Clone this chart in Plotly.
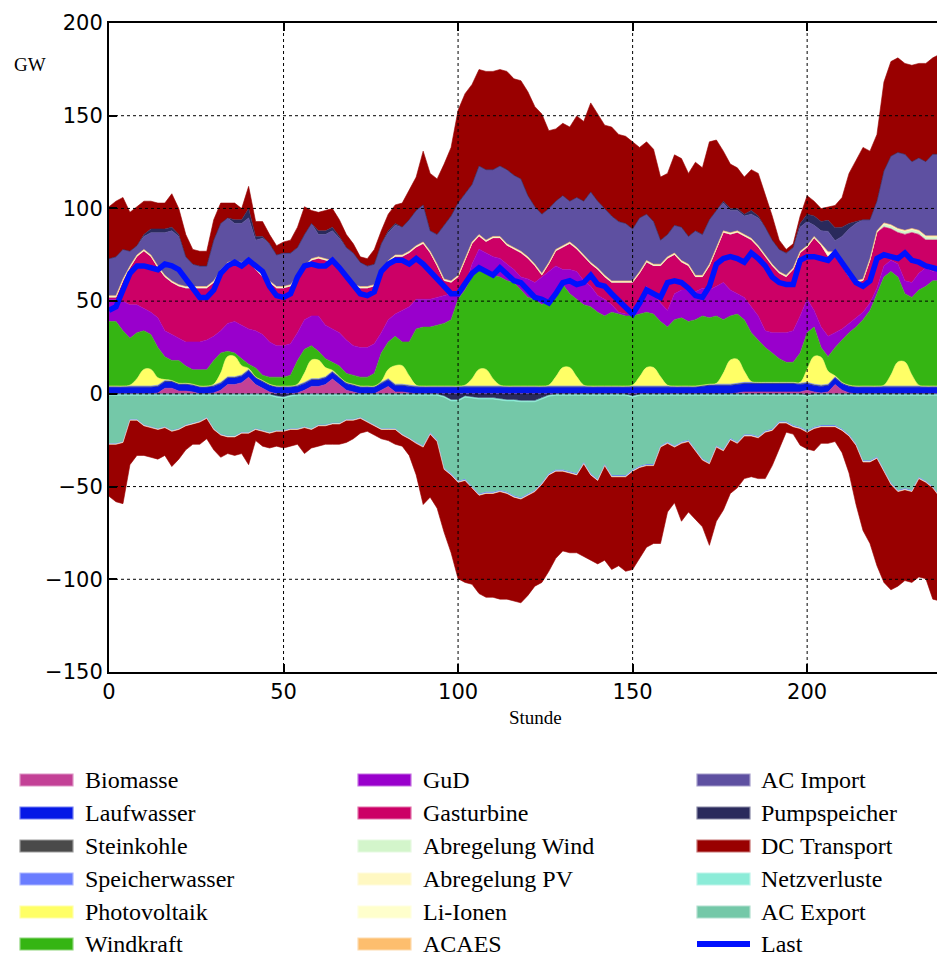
import plotly.graph_objects as go

# ---------------- data (GW), hours 0..238 step 2 ----------------
hours = list(range(0, 240, 2))

biomasse = [0, 0, 0, 0, 0, 0, 0, 0.5, 3, 3,
            1.5, 1.5, 1, 0, 0, 0.5, 2, 5, 5, 6,
            9, 5, 3, 1, 0, 0, 0, 0.5, 2, 4,
            4, 5, 8, 5, 2, 1, 0, 0, 0, 2,
            4, 1, 1, 0.5, 0, 0, 0, 0, 0, 0,
            0, 0, 0, 0, 0, 0, 0, 0, 0, 0,
            0, 0, 0, 0, 0, 0, 0, 0, 0, 0,
            0, 0, 0, 0, 0, 0, 0, 0, 0, 0,
            0, 0, 0, 0, 0, 0, 0, 0, 0, 0,
            0.5, 1, 1, 1, 1, 1, 1, 1, 1, 1,
            2, 1, 0.5, 1, 5, 2, 0.5, 0, 0, 0,
            0, 0, 0, 0, 0, 0, 0, 0, 0, 0]

laufwasser = [3.5, 3.5, 3.5, 3.5, 3.5, 3.5, 3.5, 3.5, 3.5, 3.5,
              3.5, 3.5, 3.5, 3.5, 3.5, 3.5, 3.5, 3.5, 3.5, 3.5,
              3.5, 3.5, 3.5, 3.5, 3.5, 3.5, 3.5, 3.5, 3.5, 3.5,
              3.5, 3.5, 3.5, 3.5, 3.5, 3.5, 3.5, 3.5, 3.5, 3.5,
              3.5, 3.5, 3.5, 3.5, 3.5, 3.5, 3.5, 3.5, 3.5, 3.5,
              3.5, 3.5, 3.5, 3.5, 3.5, 3.5, 3.5, 3.5, 3.5, 3.5,
              3.5, 3.5, 3.5, 3.5, 3.5, 3.5, 3.5, 3.5, 3.5, 3.5,
              3.5, 3.5, 3.5, 3.5, 3.5, 3.5, 3.5, 3.5, 3.5, 3.5,
              3.5, 3.5, 3.5, 3.5, 3.5, 4, 4.5, 4.5, 4.5, 4.5,
              4.5, 4.5, 4.5, 4.5, 4.5, 4.5, 4.5, 4.5, 4.5, 4,
              3.5, 3.5, 3.5, 3.5, 3.5, 3.5, 3.5, 3.5, 3.5, 3.5,
              3.5, 3.5, 3.5, 3.5, 3.5, 3.5, 3.5, 3.5, 3.5, 3.5]

steinkohle = [0.4, 0.4, 0.4, 0.4, 0.4, 0.4, 0.4, 0.4, 0.4, 0.4,
              0.4, 0.4, 0.4, 0.4, 0.4, 0.4, 0.4, 0.4, 0.4, 0.4,
              0.4, 0.4, 0.4, 0.4, 0.4, 0.4, 0.4, 0.4, 0.4, 0.4,
              0.4, 0.4, 0.4, 0.4, 0.4, 0.4, 0.4, 0.4, 0.4, 0.4,
              0.4, 0.4, 0.4, 0.4, 0.4, 0.4, 0.4, 0.4, 0.4, 0.4,
              0.4, 0.4, 0.4, 0.4, 0.4, 0.4, 0.4, 0.4, 0.4, 0.4,
              0.4, 0.4, 0.4, 0.4, 0.4, 0.4, 0.4, 0.4, 0.4, 0.4,
              0.4, 0.4, 0.4, 0.4, 0.4, 0.4, 0.4, 0.4, 0.4, 0.4,
              0.4, 0.4, 0.4, 0.4, 0.4, 0.4, 0.4, 0.4, 0.4, 0.4,
              0.4, 0.4, 0.4, 0.4, 0.4, 0.4, 0.4, 0.4, 0.4, 0.4,
              0.4, 0.4, 0.4, 0.4, 0.4, 0.4, 0.4, 0.4, 0.4, 0.4,
              0.4, 0.4, 0.4, 0.4, 0.4, 0.4, 0.4, 0.4, 0.4, 0.4]

speicherwasser = [0.3, 0.3, 0.3, 0.3, 0.3, 0.3, 0.3, 0.3, 0.3, 0.3,
                  0.3, 0.3, 0.3, 0.3, 0.3, 0.3, 0.3, 0.3, 0.3, 0.3,
                  0.3, 0.3, 0.3, 0.3, 0.3, 0.3, 0.3, 0.3, 0.3, 0.3,
                  0.3, 0.3, 0.3, 0.3, 0.3, 0.3, 0.3, 0.3, 0.3, 0.3,
                  0.3, 0.3, 0.3, 0.3, 0.3, 0.3, 0.3, 0.3, 0.3, 0.3,
                  0.3, 0.3, 0.3, 0.3, 0.3, 0.3, 0.3, 0.3, 0.3, 0.3,
                  0.3, 0.3, 0.3, 0.3, 0.3, 0.3, 0.3, 0.3, 0.3, 0.3,
                  0.3, 0.3, 0.3, 0.3, 0.3, 0.3, 0.3, 0.3, 0.3, 0.3,
                  0.3, 0.3, 0.3, 0.3, 0.3, 0.3, 0.3, 0.3, 0.3, 0.3,
                  0.3, 0.3, 0.3, 0.3, 0.3, 0.3, 0.3, 0.3, 0.3, 0.3,
                  0.3, 0.3, 0.3, 0.3, 0.3, 0.3, 0.3, 0.3, 0.3, 0.3,
                  0.3, 0.3, 0.3, 0.3, 0.3, 0.3, 0.3, 0.3, 0.3, 0.3]

photovoltaik = [0, 0, 0, 0.5, 4, 9, 9, 4, 0.5, 0,
                0, 0, 0, 0, 0, 0.5, 5, 11, 11, 5,
                0.5, 0, 0, 0, 0, 0, 0, 0.5, 5, 10,
                10, 5, 0.5, 0, 0, 0, 0, 0, 0, 0.5,
                5, 10, 10, 5, 0.5, 0, 0, 0, 0, 0,
                0, 0.5, 4, 9, 9, 4, 0.5, 0, 0, 0,
                0, 0, 0, 0.5, 5, 10, 10, 5, 0.5, 0,
                0, 0, 0, 0, 0, 0.5, 5, 10, 10, 5,
                0.5, 0, 0, 0, 0, 0, 0, 0.5, 6, 13,
                13, 6, 0.5, 0, 0, 0, 0, 0, 0, 0.5,
                7, 15, 15, 7, 0.5, 0, 0, 0, 0, 0,
                0, 0.5, 6, 13, 13, 6, 0.5, 0, 0, 0]

windkraft = [34.8, 34.8, 29.8, 25.3, 24.8, 20.8, 18.8, 16.3, 12.3, 10.8,
             12.3, 9.3, 7.8, 8.8, 8.8, 12.8, 10.8, 2.8, 1.8, 3.8,
             2.3, 4.8, 2.8, 3.8, 4.8, 4.8, 5.8, 12.8, 12.8, 7.8,
             4.8, 4.8, 4.3, 5.8, 4.8, 4.8, 4.8, 4.8, 6.8, 15.3,
             14.8, 15.8, 12.8, 18.3, 30.3, 31.8, 31.8, 32.8, 33.8, 35.8,
             46.8, 51.3, 54.8, 55.8, 53.8, 55.8, 58.3, 56.8, 55.8, 51.8,
             47.8, 46.8, 43.8, 46.3, 44.8, 44.8, 39.8, 41.8, 43.3, 42.8,
             39.8, 37.8, 39.8, 38.8, 37.8, 37.3, 33.8, 29.8, 28.8, 29.8,
             31.3, 35.8, 36.8, 34.8, 35.8, 37.3, 35.8, 36.3, 28.8, 23.8,
             24.3, 27.8, 26.3, 22.8, 18.8, 15.8, 12.8, 10.8, 10.8, 15.8,
             19.8, 15.8, 5.3, 7.8, 15.3, 22.8, 28.3, 31.8, 35.8, 40.8,
             49.8, 58.3, 55.8, 45.8, 36.8, 41.8, 51.3, 53.8, 56.8, 56.8]

gud = [12, 12, 16, 18, 15, 12, 12, 16, 14, 14,
       12, 13, 15, 15, 16, 13, 12, 15, 17, 18,
       19, 20, 22, 19, 17, 17, 17, 15, 16, 16,
       19, 18, 18, 18, 18, 16, 16, 16, 16, 11,
       12, 12, 17, 19, 16, 15, 15, 15, 15, 14,
       3, 2, 7, 9, 9, 10, 10, 9, 7, 7,
       10, 9, 15, 15, 15, 8, 13, 15, 13, 11,
       9, 9, 4, 1, 1, 1, 7, 14, 11, 10,
       9, 14, 15, 17, 15, 15, 15, 16, 20, 14,
       11, 12, 14, 13, 9, 11, 14, 16, 17, 20,
       18, 9, 11, 11, 8, 6, 5, 5, 4, 4,
       3, 6, 6, 7, 7, 8, 9, 10, 5, 6]

gasturbine = [1, 1, 11, 20, 26, 31, 30, 27, 29, 28,
              28, 29, 29, 29, 28, 29, 32, 32, 32, 33,
              37, 33, 31, 32, 31, 31, 31, 30, 28, 30,
              31, 35, 36, 35, 34, 32, 32, 32, 31, 33,
              31, 31, 29, 29, 28, 30, 25, 17, 8, 6,
              9, 14, 11, 7, 6, 10, 11, 10, 11, 13,
              11, 9, 1, 4, 8, 12, 14, 12, 13, 12,
              14, 12, 12, 16, 17, 17, 15, 13, 15, 20,
              28, 21, 15, 13, 8, 6, 13, 20, 27, 30,
              33, 33, 36, 37, 40, 36, 32, 30, 33, 34,
              28, 39, 44, 43, 41, 34, 25, 19, 17, 23,
              30, 21, 17, 17, 25, 27, 21, 15, 17, 16]

abregelung_wind = [0.2, 0.2, 0.2, 0.2, 0.2, 0.2, 0.2, 0.2, 0.2, 0.2,
                   0.2, 0.2, 0.2, 0.2, 0.2, 0.2, 0.2, 0.2, 0.2, 0.2,
                   0.2, 0.2, 0.2, 0.2, 0.2, 0.2, 0.2, 0.2, 0.2, 0.2,
                   0.2, 0.2, 0.2, 0.2, 0.2, 0.2, 0.2, 0.2, 0.2, 0.2,
                   0.2, 0.2, 0.2, 0.2, 0.2, 0.2, 0.2, 0.2, 0.2, 0.2,
                   0.2, 0.2, 0.2, 0.2, 0.2, 0.2, 0.2, 0.2, 0.2, 0.2,
                   0.2, 0.2, 0.2, 0.2, 0.2, 0.2, 0.2, 0.2, 0.2, 0.2,
                   0.2, 0.2, 0.2, 0.2, 0.2, 0.2, 0.2, 0.2, 0.2, 0.2,
                   0.2, 0.2, 0.2, 0.2, 0.2, 0.2, 0.2, 0.2, 0.2, 0.2,
                   0.2, 0.2, 0.2, 0.2, 0.2, 0.2, 0.2, 0.2, 0.2, 0.2,
                   0.2, 0.2, 0.2, 0.2, 0.2, 0.2, 0.2, 0.2, 0.2, 0.2,
                   0.2, 1.5, 1.5, 1.5, 1.5, 1.5, 1.5, 1.5, 1.5, 1.5]

abregelung_pv = [0.2, 0.2, 0.2, 0.2, 0.2, 0.2, 0.2, 0.2, 0.2, 0.2,
                 0.2, 0.2, 0.2, 0.2, 0.2, 0.2, 0.2, 0.2, 0.2, 0.2,
                 0.2, 0.2, 0.2, 0.2, 0.2, 0.2, 0.2, 0.2, 0.2, 0.2,
                 0.2, 0.2, 0.2, 0.2, 0.2, 0.2, 0.2, 0.2, 0.2, 0.2,
                 0.2, 0.2, 0.2, 0.2, 0.2, 0.2, 0.2, 0.2, 0.2, 0.2,
                 0.2, 0.2, 0.2, 0.2, 0.2, 0.2, 0.2, 0.2, 0.2, 0.2,
                 0.2, 0.2, 0.2, 0.2, 0.2, 0.2, 0.2, 0.2, 0.2, 0.2,
                 0.2, 0.2, 0.2, 0.2, 0.2, 0.2, 0.2, 0.2, 0.2, 0.2,
                 0.2, 0.2, 0.2, 0.2, 0.2, 0.2, 0.2, 0.2, 0.2, 0.2,
                 0.2, 0.2, 0.2, 0.2, 0.2, 0.2, 0.2, 0.2, 0.2, 0.2,
                 0.2, 0.2, 0.2, 0.2, 0.2, 0.2, 0.2, 0.2, 0.2, 0.2,
                 0.2, 0.2, 0.2, 0.2, 0.2, 0.2, 0.2, 0.2, 0.2, 0.2]

li_ionen = [0.3, 0.3, 0.3, 0.3, 0.3, 0.3, 0.3, 0.3, 0.3, 0.3,
            0.3, 0.3, 0.3, 0.3, 0.3, 0.3, 0.3, 0.3, 0.3, 0.3,
            0.3, 0.3, 0.3, 0.3, 0.3, 0.3, 0.3, 0.3, 0.3, 0.3,
            0.3, 0.3, 0.3, 0.3, 0.3, 0.3, 0.3, 0.3, 0.3, 0.3,
            0.3, 0.3, 0.3, 0.3, 0.3, 0.3, 0.3, 0.3, 0.3, 0.3,
            0.3, 0.3, 0.3, 0.3, 0.3, 0.3, 0.3, 0.3, 0.3, 0.3,
            0.3, 0.3, 0.3, 0.3, 0.3, 0.3, 0.3, 0.3, 0.3, 0.3,
            0.3, 0.3, 0.3, 0.3, 0.3, 0.3, 0.3, 0.3, 0.3, 0.3,
            0.3, 0.3, 0.3, 0.3, 0.3, 0.3, 0.3, 0.3, 0.3, 0.3,
            0.3, 0.3, 0.3, 0.3, 0.3, 0.3, 0.3, 0.3, 0.3, 0.3,
            0.3, 0.3, 0.3, 2, 2, 0.3, 0.3, 0.3, 0.3, 0.3,
            0.3, 0.3, 0.3, 0.3, 0.3, 0.3, 0.3, 0.3, 0.3, 0.3]

acaes = [0.2, 0.2, 0.2, 0.2, 0.2, 0.2, 0.2, 0.2, 0.2, 0.2,
         0.2, 0.2, 0.2, 0.2, 0.2, 0.2, 0.2, 0.2, 0.2, 0.2,
         0.2, 0.2, 0.2, 0.2, 0.2, 0.2, 0.2, 0.2, 0.2, 0.2,
         0.2, 0.2, 0.2, 0.2, 0.2, 0.2, 0.2, 0.2, 0.2, 0.2,
         0.2, 0.2, 0.2, 0.2, 0.2, 0.2, 0.2, 0.2, 0.2, 0.2,
         0.2, 0.2, 0.2, 0.2, 0.2, 0.2, 0.2, 0.2, 0.2, 0.2,
         0.2, 0.2, 0.2, 0.2, 0.2, 0.2, 0.2, 0.2, 0.2, 0.2,
         0.2, 0.2, 0.2, 0.2, 0.2, 0.2, 0.2, 0.2, 0.2, 0.2,
         0.2, 0.2, 0.2, 0.2, 0.2, 0.2, 0.2, 0.2, 0.2, 0.2,
         0.2, 0.2, 0.2, 0.2, 0.2, 0.2, 0.2, 0.2, 0.2, 0.2,
         0.2, 0.2, 0.2, 0.2, 0.2, 0.2, 0.2, 0.2, 0.2, 0.2,
         0.2, 0.2, 0.2, 0.2, 0.2, 0.2, 0.2, 0.2, 0.2, 0.2]

ac_import = [20, 21, 16, 8, 5, 7, 12, 18, 23, 27,
             26, 16, 12, 11, 11, 22, 25, 24, 20, 21,
             22, 15, 20, 20, 17, 18, 17, 15, 17, 19,
             12, 13, 16, 15, 15, 17, 13, 11, 11, 14,
             15, 16, 15, 17, 19, 20, 11, 16, 29, 35,
             39, 35, 31, 37, 38, 36, 38, 40, 39, 39,
             33, 31, 32, 29, 26, 27, 22, 27, 29, 38,
             36, 36, 35, 32, 31, 28, 29, 25, 23, 13,
             12, 15, 18, 15, 24, 22, 24, 20, 15, 12,
             11, 10, 13, 15, 15, 13, 12, 12, 11, 13,
             13, 6, 7, 11, 6, 15, 25, 31, 32, 21,
             16, 28, 37, 41, 41, 36, 39, 40, 44, 44]

pumpspeicher = [0, 0, 0, 0, 0, 1, 2, 2, 2, 2,
                1, 0, 0, 0, 0, 0, 0, 0, 2, 2,
                5, 2, 1, 0, 0, 0, 0, 0, 0, 0,
                2, 2, 2, 1, 0, 0, 0, 0, 0, 0,
                1, 1, 0, 0, 0, 0, 0, 0, 0, 0,
                0, 0, 0, 0, 0, 0, 0, 0, 0, 0,
                0, 0, 0, 0, 0, 0, 0, 0, 0, 0,
                0, 0, 0, 0, 0, 0, 0, 0, 0, 0,
                0, 0, 0, 0, 0, 0, 0, 0, 1, 1,
                1, 1, 2, 1, 0, 0, 0, 0, 0, 2,
                4, 5, 5, 6, 7, 5, 3, 1, 0, 0,
                0, 0, 0, 0, 0, 0, 0, 0, 0, 0]

dc_transport = [28, 30, 28, 21, 21, 18, 15, 14, 14, 18,
                14, 12, 8, 8, 8, 11, 11, 8, 9, 6,
                12, 8, 8, 5, 5, 6, 7, 11, 15, 7,
                10, 11, 10, 9, 7, 5, 3, 4, 8, 7,
                9, 10, 13, 16, 18, 29, 31, 30, 33, 37,
                50, 54, 54, 52, 53, 53, 52, 53, 52, 53,
                56, 54, 54, 42, 39, 39, 40, 44, 43, 48,
                47, 45, 48, 47, 47, 47, 38, 39, 39, 34,
                33, 38, 37, 34, 37, 36, 42, 38, 27, 24,
                22, 20, 22, 23, 18, 13, 5, 2, 2, 4,
                10, 8, 7, 7, 12, 16, 27, 33, 39, 37,
                36, 48, 51, 51, 49, 52, 51, 53, 52, 54]

# negative side
pumpspeicher_neg = [0, 0, 0, 0, 0, 0, 0, 0, 0, 0,
                    0, 0, 0, 0, 0, 0, 0, 0, 0, 0,
                    0, 0, 0, 0, -1, -1.5, -0.5, 0, 0, 0,
                    0, 0, 0, 0, 0, 0, 0, 0, 0, 0,
                    0, 0, 0, 0, 0, 0, 0, 0, -1, -3,
                    -3, -1, -1.5, -2, -2, -2, -2.5, -3, -3, -3.5,
                    -3.5, -3.5, -2, -0.5, 0, 0, 0, 0, 0, 0,
                    0, 0, 0, 0, 0, -1, 0, 0, 0, 0,
                    0, 0, 0, 0, 0, 0, 0, 0, 0, 0,
                    0, 0, 0, 0, 0, 0, 0, 0, 0, 0,
                    -0.5, 0, 0, 0, 0, 0, 0, 0, 0, 0,
                    0, 0, 0, 0, 0, 0, 0, 0, 0, 0]

netzverluste = [-0.8, -0.8, -0.8, -0.8, -0.8, -0.8, -0.8, -0.8, -0.8, -0.8,
                -0.8, -0.8, -0.8, -0.8, -0.8, -0.8, -0.8, -0.8, -0.8, -0.8,
                -0.8, -0.8, -0.8, -0.8, -0.8, -0.8, -0.8, -0.8, -0.8, -0.8,
                -0.8, -0.8, -0.8, -0.8, -0.8, -0.8, -0.8, -0.8, -0.8, -0.8,
                -0.8, -0.8, -0.8, -0.8, -0.8, -0.8, -0.8, -0.8, -0.8, -0.8,
                -0.8, -0.8, -0.8, -0.8, -0.8, -0.8, -0.8, -0.8, -0.8, -0.8,
                -0.8, -0.8, -0.8, -0.8, -0.8, -0.8, -0.8, -0.8, -0.8, -0.8,
                -0.8, -0.8, -0.8, -0.8, -0.8, -0.8, -0.8, -0.8, -0.8, -0.8,
                -0.8, -0.8, -0.8, -0.8, -0.8, -0.8, -0.8, -0.8, -0.8, -0.8,
                -0.8, -0.8, -0.8, -0.8, -0.8, -0.8, -0.8, -0.8, -0.8, -0.8,
                -0.8, -0.8, -0.8, -0.8, -0.8, -0.8, -0.8, -0.8, -0.8, -0.8,
                -0.8, -0.8, -0.8, -0.8, -0.8, -0.8, -0.8, -0.8, -0.8, -0.8]

ac_export = [-26, -26, -25, -13, -13, -16, -17, -18, -17, -19,
             -18, -16, -15, -14, -12, -18, -21, -22, -22, -20,
             -20, -18, -19, -20, -18, -17.5, -17.5, -18, -17, -18,
             -16, -16, -15, -15, -13, -13, -12, -14, -16, -18,
             -18, -18, -21, -23, -25, -27, -20, -24, -38, -39,
             -43, -44, -47.5, -51, -50, -50, -48.5, -49, -51, -51.5,
             -49.5, -47.5, -45, -41.5, -40, -40, -41, -42, -36, -42,
             -45, -37, -43, -43, -43, -39, -38, -37, -37, -27,
             -25, -27, -25, -24, -29, -34, -36, -27, -29, -23,
             -25, -21, -21, -22, -19, -18, -14, -14, -16, -17,
             -18.5, -17, -16, -16, -16, -18, -21, -26, -35, -35,
             -33, -40, -47, -51, -50, -51, -44, -46, -49, -54]

speicherwasser_neg = [0, 0, 0, 0, 0, 0, 0, 0, 0, 0,
                      0, 0, 0, 0, 0, 0, 0, 0, 0, 0,
                      0, 0, 0, 0, 0, 0, 0, 0, 0, 0,
                      0, 0, 0, 0, 0, 0, 0, 0, 0, 0,
                      0, 0, 0, 0, -0.5, -0.5, -0.5, -0.5, -0.5, -0.5,
                      -0.5, -0.5, -0.5, -0.5, -0.5, -0.5, -0.5, -0.5, -0.5, -0.5,
                      -0.5, -0.5, -0.5, -0.5, -0.5, -0.5, -0.5, -0.5, -0.5, -0.5,
                      -0.5, -0.5, -0.5, -0.5, -0.5, -0.5, -0.5, -0.5, -0.5, -0.5,
                      -0.5, -0.5, -0.5, -0.5, -0.5, -0.5, -0.5, -0.5, -0.5, -0.5,
                      -0.5, -0.5, -0.5, -0.5, -0.5, -0.5, -0.5, -0.5, -0.5, -0.5,
                      -0.5, -0.5, -0.5, -0.5, -0.5, -0.5, -0.5, -0.5, -0.5, -0.5,
                      -0.5, -0.5, -0.5, -0.5, -0.5, -0.5, -0.5, -0.5, -0.5, -0.5]

li_ionen_neg = [-0.4, -0.4, -0.4, -0.4, -0.4, -0.4, -0.4, -0.4, -0.4, -0.4,
                -0.4, -0.4, -0.4, -0.4, -0.4, -0.4, -0.4, -0.4, -0.4, -0.4,
                -0.4, -0.4, -0.4, -0.4, -0.4, -0.4, -0.4, -0.4, -0.4, -0.4,
                -0.4, -0.4, -0.4, -0.4, -0.4, -0.4, -0.4, -0.4, -0.4, -0.4,
                -0.4, -0.4, -0.4, -0.4, -0.4, -0.4, -0.4, -0.4, -0.4, -0.4,
                -0.4, -0.4, -0.4, -0.4, -0.4, -0.4, -0.4, -0.4, -0.4, -0.4,
                -0.4, -0.4, -0.4, -0.4, -0.4, -0.4, -0.4, -0.4, -0.4, -0.4,
                -0.4, -0.4, -0.4, -0.4, -0.4, -0.4, -0.4, -0.4, -0.4, -0.4,
                -0.4, -0.4, -0.4, -0.4, -0.4, -0.4, -0.4, -0.4, -0.4, -0.4,
                -0.4, -0.4, -0.4, -0.4, -0.4, -0.4, -0.4, -0.4, -0.4, -0.4,
                -0.4, -0.4, -0.4, -0.4, -0.4, -0.4, -0.4, -0.4, -0.4, -0.4,
                -0.4, -0.4, -0.4, -0.4, -0.4, -0.4, -0.4, -0.4, -0.4, -0.4]

dc_transport_neg = [-28, -31, -33, -24, -19, -16, -16, -16, -15, -19,
                    -16, -13, -11, -12, -11, -11, -12, -9, -10, -11,
                    -17, -6, -8, -8, -8, -9, -9, -8, -14, -10,
                    -11, -10, -11, -11, -12, -10, -8, -5, -5, -5,
                    -6, -8, -6, -9, -17, -31, -34, -36, -34, -42,
                    -52, -55, -52, -53, -56, -56, -58, -57, -56, -56,
                    -54, -51, -53, -52, -47, -43, -43, -42, -50, -46,
                    -45, -51, -50, -48, -51, -53, -49, -44, -42, -52,
                    -37, -30, -42, -38, -37, -36, -44, -40, -32, -29,
                    -24, -23, -22, -22, -25, -19, -14, -5, -4, -9,
                    -9, -12, -9, -9, -8, -12, -20, -32, -37, -44,
                    -58, -60, -57, -51, -49, -49, -53, -52, -60, -56]

last = [45, 47, 56, 65, 69, 69, 68, 67, 70, 69,
        67, 62, 56, 52, 52, 56, 65, 69, 71, 69,
        72, 69, 66, 58, 53, 52, 54, 63, 69, 70,
        69, 69, 72, 68, 63, 58, 54, 53, 55, 66,
        70, 72, 72, 70, 73, 70, 66, 63, 59, 54,
        54, 59, 65, 68, 66, 64, 68, 64, 61, 60,
        56, 52, 51, 49, 54, 60, 61, 59, 60, 64,
        59, 58, 54, 50, 47, 43, 49, 56, 54, 52,
        60, 61, 60, 57, 53, 52, 58, 70, 73, 74,
        73, 71, 76, 73, 69, 63, 60, 59, 59, 72,
        74, 74, 73, 72, 76, 71, 65, 60, 58, 61,
        73, 75, 74, 73, 76, 72, 71, 69, 68, 67]

x_ticks = [0, 50, 100, 150, 200]
y_ticks = [-150, -100, -50, 0, 50, 100, 150, 200]

# ---------------- colours ----------------
C = {
    "Biomasse": "#c34196", "Laufwasser": "#0518e6", "Steinkohle": "#4a4a4a",
    "Speicherwasser": "#6a7dff", "Photovoltaik": "#ffff66", "Windkraft": "#35b513",
    "GuD": "#9900cc", "Gasturbine": "#cc0066", "Abregelung Wind": "#d3f5cb",
    "Abregelung PV": "#fff8c2", "Li-Ionen": "#ffffcc", "ACAES": "#fdbe6e",
    "AC Import": "#5e50a1", "Pumpspeicher": "#2a2a5c", "DC Transport": "#990000",
    "Netzverluste": "#8cecd8", "AC Export": "#74c8a8", "Last": "#0010ff",
}

pos_series = [
    ("Biomasse", biomasse), ("Laufwasser", laufwasser), ("Steinkohle", steinkohle),
    ("Speicherwasser", speicherwasser), ("Photovoltaik", photovoltaik),
    ("Windkraft", windkraft), ("GuD", gud), ("Gasturbine", gasturbine),
    ("Abregelung Wind", abregelung_wind), ("Abregelung PV", abregelung_pv),
    ("Li-Ionen", li_ionen), ("ACAES", acaes), ("AC Import", ac_import),
    ("Pumpspeicher", pumpspeicher), ("DC Transport", dc_transport),
]
neg_series = [
    ("Pumpspeicher", pumpspeicher_neg), ("Netzverluste", netzverluste),
    ("AC Export", ac_export), ("Speicherwasser", speicherwasser_neg),
    ("Li-Ionen", li_ionen_neg), ("DC Transport", dc_transport_neg),
]

fig = go.Figure()
for name, vals in pos_series:
    shape = "spline" if name == "Photovoltaik" else "linear"
    fig.add_trace(go.Scatter(x=hours, y=vals, name=name, stackgroup="pos",
                             mode="lines", line=dict(width=0.6, color=C[name], shape=shape),
                             fillcolor=C[name], showlegend=False, hoverinfo="skip"))
for name, vals in neg_series:
    fig.add_trace(go.Scatter(x=hours, y=vals, name=name, stackgroup="neg",
                             mode="lines", line=dict(width=0.6, color=C[name]),
                             fillcolor=C[name], showlegend=False, hoverinfo="skip"))
fig.add_trace(go.Scatter(x=hours, y=last, name="Last", mode="lines",
                         line=dict(width=5.5, color=C["Last"]), showlegend=False,
                         hoverinfo="skip"))

# ---------------- layout geometry (pixels) ----------------
W, H = 937, 959
L, R, T, B = 109, 937, 23, 672
PW, PH = R - L, B - T


def px(xp):
    return (xp - L) / PW


def py(yp):
    return (B - yp) / PH


shapes = []
# dotted grid above the areas
for xv in x_ticks[1:]:
    shapes.append(dict(type="line", xref="x", yref="paper", x0=xv, x1=xv, y0=0, y1=1,
                       line=dict(color="black", width=1, dash="dot"), layer="above"))
for yv in y_ticks[1:-1]:
    shapes.append(dict(type="line", xref="paper", yref="y", x0=0, x1=1, y0=yv, y1=yv,
                       line=dict(color="black", width=1, dash="dot"), layer="above"))

# legend (3 columns x 6 rows)
legend_cols = [
    ["Biomasse", "Laufwasser", "Steinkohle", "Speicherwasser", "Photovoltaik", "Windkraft"],
    ["GuD", "Gasturbine", "Abregelung Wind", "Abregelung PV", "Li-Ionen", "ACAES"],
    ["AC Import", "Pumpspeicher", "DC Transport", "Netzverluste", "AC Export", "Last"],
]
patch_x = [20, 358, 697]
text_x = [83, 421, 759]
row_y = [780, 813, 846, 879, 912, 944]
annotations = []


def lighten(hexc, f=0.45):
    r, g, b = int(hexc[1:3], 16), int(hexc[3:5], 16), int(hexc[5:7], 16)
    r, g, b = [int(v + (255 - v) * f) for v in (r, g, b)]
    return "#%02x%02x%02x" % (r, g, b)


for ci, col in enumerate(legend_cols):
    for ri, name in enumerate(col):
        yc = row_y[ri]
        if name == "Last":
            shapes.append(dict(type="rect", xref="paper", yref="paper",
                               x0=px(patch_x[ci]), x1=px(patch_x[ci] + 53),
                               y0=py(yc + 3), y1=py(yc - 3),
                               fillcolor=C[name], line=dict(width=0)))
        else:
            shapes.append(dict(type="rect", xref="paper", yref="paper",
                               x0=px(patch_x[ci]), x1=px(patch_x[ci] + 53),
                               y0=py(yc + 6), y1=py(yc - 6),
                               fillcolor=C[name],
                               line=dict(width=1.2, color=lighten(C[name]))))
        annotations.append(dict(text=name, xref="paper", yref="paper",
                                x=px(text_x[ci]), y=py(yc), xanchor="left",
                                yanchor="middle", showarrow=False,
                                font=dict(family="Liberation Serif", size=24, color="black")))

annotations.append(dict(text="GW", xref="paper", yref="paper", x=px(30), y=py(65),
                        xanchor="center", yanchor="middle", showarrow=False,
                        font=dict(family="Liberation Serif", size=19, color="black")))
annotations.append(dict(text="Stunde", xref="paper", yref="paper", x=px(535), y=py(717),
                        xanchor="center", yanchor="middle", showarrow=False,
                        font=dict(family="Liberation Serif", size=19, color="black")))

fig.update_layout(
    width=W, height=H,
    margin=dict(l=L, r=W - R, t=T, b=H - B, pad=0),
    paper_bgcolor="white", plot_bgcolor="white",
    showlegend=False,
    shapes=shapes, annotations=annotations,
    xaxis=dict(range=[0, 237.2], tickvals=x_ticks, showgrid=False, zeroline=False,
               showline=True, linecolor="black", linewidth=2, mirror="ticks",
               ticks="inside", ticklen=8, tickwidth=1.5, tickcolor="black",
               tickfont=dict(family="DejaVu Sans", size=21, color="black")),
    yaxis=dict(range=[-150, 200], tickvals=y_ticks, showgrid=False, zeroline=False,
               showline=True, linecolor="black", linewidth=2,
               ticks="inside", ticklen=8, tickwidth=1.5, tickcolor="black",
               tickfont=dict(family="DejaVu Sans", size=21, color="black")),
)

fig.write_html("out.html",
               config={"displayModeBar": False},
               post_script="document.body.style.margin='0px';"
                           "document.body.style.overflow='hidden';")
